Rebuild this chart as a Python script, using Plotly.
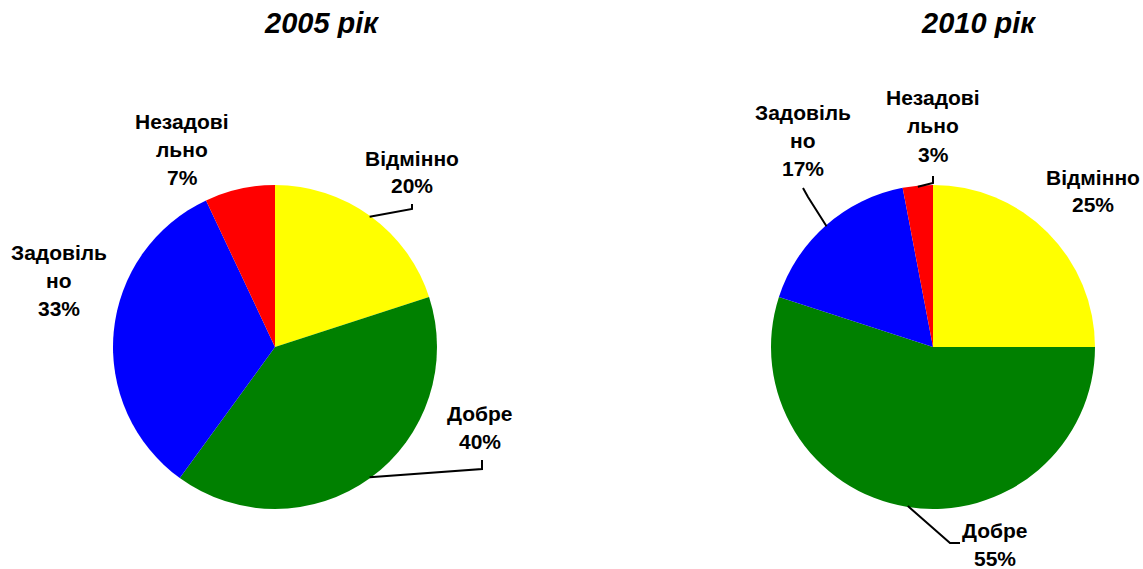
import math

import plotly.graph_objects as go

W, H = 1143, 569

categories = ["Відмінно", "Добре", "Задовільно", "Незадовільно"]
values_2005 = [20, 40, 33, 7]
values_2010 = [25, 55, 17, 3]
titles = ["2005 рік", "2010 рік"]

colors = ["#FFFF00", "#008000", "#0000FF", "#FF0000"]
wrap = {"Задовільно": ["Задовіль", "но"], "Незадовільно": ["Незадові", "льно"]}

# pixel layout of each pie: centre, radius, title position
pies = [
    dict(cx=275, cy=347, r=162, title=(321, 23)),
    dict(cx=933, cy=347, r=162, title=(978, 23)),
]
# first-line centre of each label, and leader elbows
label_pos = [
    {"Відмінно": (412, 158), "Добре": (480, 413), "Задовільно": (59, 252), "Незадовільно": (182, 121)},
    {"Відмінно": (1093, 177), "Добре": (995, 530), "Задовільно": (803, 112), "Незадовільно": (933, 98)},
]
leaders = [
    {"Відмінно": [(412, 209), (412, 204)], "Добре": [(482, 469), (482, 460)]},
    {"Добре": [(950, 543), (960, 543)], "Задовільно": [(808, 197), (803, 188)],
     "Незадовільно": [(933, 183), (933, 176)]},
]
LINE_GAP = 28
FONT = "Arial, Liberation Sans, sans-serif"


def px(x, y):
    return x / W, 1 - y / H


fig = go.Figure()
annotations = []
shapes = []
for i, vals in enumerate([values_2005, values_2010]):
    p = pies[i]
    x0, y1 = px(p["cx"] - p["r"], p["cy"] - p["r"])
    x1, y0 = px(p["cx"] + p["r"], p["cy"] + p["r"])
    fig.add_trace(
        go.Pie(
            labels=categories,
            values=vals,
            sort=False,
            direction="clockwise",
            rotation=0,
            marker=dict(colors=colors, line=dict(width=0)),
            textinfo="none",
            hoverinfo="label+percent",
            showlegend=False,
            domain=dict(x=[x0, x1], y=[y0, y1]),
        )
    )
    tx, ty = px(*p["title"])
    annotations.append(dict(
        x=tx, y=ty, xref="paper", yref="paper", showarrow=False,
        xanchor="center", yanchor="middle", height=30,
        text=f"<b><i>{titles[i]}</i></b>",
        font=dict(family=FONT, size=29, color="black"),
    ))
    total = sum(vals)
    cum = 0
    for cat, v in zip(categories, vals):
        mid = (cum + v / 2) / total
        cum += v
        ang = 2 * math.pi * mid
        ex = p["cx"] + (p["r"] - 1) * math.sin(ang)
        ey = p["cy"] - (p["r"] - 1) * math.cos(ang)
        lines = wrap.get(cat, [cat]) + [f"{v / total * 100:.0f}%"]
        lx, ly = label_pos[i][cat]
        for k, line in enumerate(lines):
            ax_, ay_ = px(lx, ly + k * LINE_GAP)
            annotations.append(dict(
                x=ax_, y=ay_, xref="paper", yref="paper", showarrow=False,
                xanchor="center", yanchor="middle",
                text=f"<b>{line}</b>",
                font=dict(family=FONT, size=21, color="black"),
            ))
        if cat in leaders[i]:
            pts = [(ex, ey)] + leaders[i][cat]
            path = "M " + " L ".join(f"{px(a, b)[0]},{px(a, b)[1]}" for a, b in pts)
            shapes.append(dict(type="path", xref="paper", yref="paper", path=path,
                               line=dict(color="black", width=2)))

fig.update_layout(
    width=W,
    height=H,
    margin=dict(l=0, r=0, t=0, b=0),
    paper_bgcolor="white",
    plot_bgcolor="white",
    annotations=annotations,
    shapes=shapes,
)
# drop the browser's default body margin so the figure fills the window exactly
fig.write_html(
    "out.html",
    config={"displayModeBar": False},
    post_script="document.body.style.margin = '0';",
)
